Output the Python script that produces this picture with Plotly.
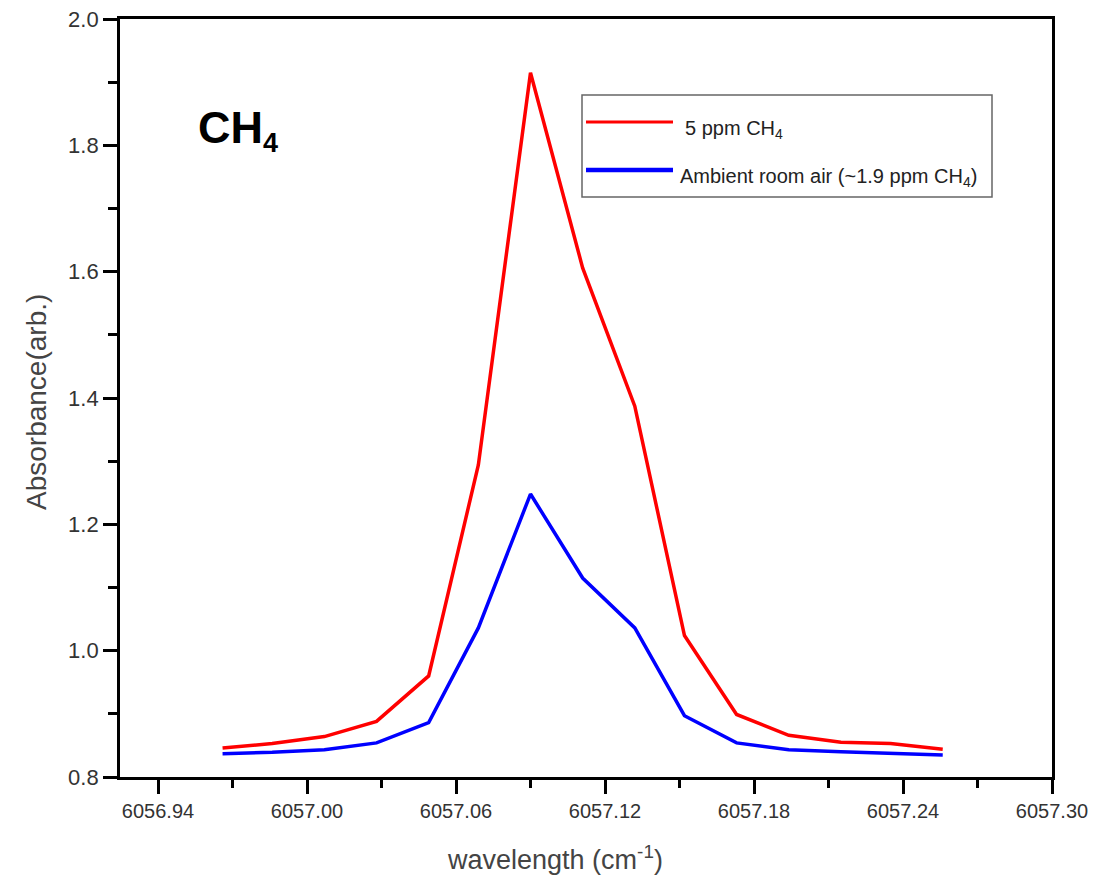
import plotly.graph_objects as go

# Wavenumber grid (cm^-1) and absorbance spectra
wavenumber = [6056.966, 6056.986, 6057.007, 6057.028, 6057.049, 6057.069, 6057.090,
              6057.111, 6057.132, 6057.152, 6057.173, 6057.194, 6057.215, 6057.235, 6057.256]
absorb_5ppm = [0.846, 0.853, 0.864, 0.888, 0.960, 1.294, 1.915,
               1.606, 1.387, 1.024, 0.899, 0.866, 0.855, 0.853, 0.844]
absorb_ambient = [0.837, 0.839, 0.843, 0.854, 0.886, 1.036, 1.248,
                  1.115, 1.036, 0.897, 0.854, 0.843, 0.840, 0.838, 0.835]

series_names = ["5 ppm CH<sub>4</sub>", "Ambient room air (~1.9 ppm CH<sub>4</sub>)"]
series_colors = ["#ff0000", "#0000ff"]

W, H = 1105, 878
ML, MR, MT, MB = 120, 53, 19, 101
PW, PH = W - ML - MR, H - MT - MB


def px_x(px):
    return (px - ML) / PW


def px_y(py):
    return (H - MB - py) / PH


fig = go.Figure()
for ys, name, col in zip([absorb_5ppm, absorb_ambient], series_names, series_colors):
    fig.add_trace(go.Scatter(x=wavenumber, y=ys, mode="lines", name=name,
                             line=dict(color=col, width=3.5), showlegend=False))

FONT = "Liberation Sans, Arial, sans-serif"

axis_common = dict(
    showline=True, linecolor="black", linewidth=2.8, mirror=True,
    ticks="outside", tickcolor="black", tickwidth=2.8, ticklen=14,
    showgrid=False, zeroline=False, automargin=False,
)

fig.update_xaxes(
    range=[6056.9247, 6057.30], tick0=6056.94, dtick=0.06, tickformat=".2f",
    tickfont=dict(family=FONT, size=20, color="#333333"),
    minor=dict(ticks="outside", ticklen=8, tickwidth=2.8, tickcolor="black", dtick=0.03,
               tick0=6056.94, showgrid=False),
    **axis_common,
)
fig.update_yaxes(
    range=[0.8, 2.0], tick0=0.8, dtick=0.2, tickformat=".1f",
    tickfont=dict(family=FONT, size=22, color="#333333"),
    minor=dict(ticks="outside", ticklen=9, tickwidth=2.8, tickcolor="black", dtick=0.1,
               tick0=0.8, showgrid=False),
    **axis_common,
)

# Axis titles
fig.add_annotation(x=px_x(555), y=px_y(858), xref="paper", yref="paper",
                   text="wavelength (cm<sup>-1</sup>)", showarrow=False,
                   xanchor="center", yanchor="middle",
                   font=dict(family=FONT, size=27, color="#444444"))
fig.add_annotation(x=px_x(36), y=px_y(402), xref="paper", yref="paper",
                   text="Absorbance(arb.)", showarrow=False, textangle=-90,
                   xanchor="center", yanchor="middle",
                   font=dict(family=FONT, size=28, color="#444444"))

# Species label
fig.add_annotation(x=px_x(196), y=px_y(130), xref="paper", yref="paper",
                   text="<b>CH<sub><span style='font-size:27px'>4</span></sub></b>",
                   showarrow=False, xanchor="left", yanchor="middle",
                   font=dict(family=FONT, size=45, color="black"))

# Legend box drawn with shapes and text
box_l, box_r, box_t, box_b = 582, 992, 95, 197
fig.add_shape(type="rect", xref="paper", yref="paper",
              x0=px_x(box_l), x1=px_x(box_r), y0=px_y(box_b), y1=px_y(box_t),
              line=dict(color="#666666", width=1.5), fillcolor="white", layer="above")
legend_rows = [(122, 683, 3), (170, 678, 4.5)]
for (ly, tx, lw), name, col in zip(legend_rows, series_names, series_colors):
    fig.add_shape(type="line", xref="paper", yref="paper",
                  x0=px_x(586), x1=px_x(673), y0=px_y(ly), y1=px_y(ly),
                  line=dict(color=col, width=lw), layer="above")
    fig.add_annotation(x=px_x(tx), y=px_y(ly + 7), xref="paper", yref="paper",
                       text=name, showarrow=False, xanchor="left", yanchor="middle",
                       font=dict(family=FONT, size=20, color="#222222"))

fig.update_layout(
    width=W, height=H,
    margin=dict(l=ML, r=MR, t=MT, b=MB, pad=0, autoexpand=False),
    paper_bgcolor="white", plot_bgcolor="white",
    font=dict(family=FONT),
)

fig.write_html("out.html")
